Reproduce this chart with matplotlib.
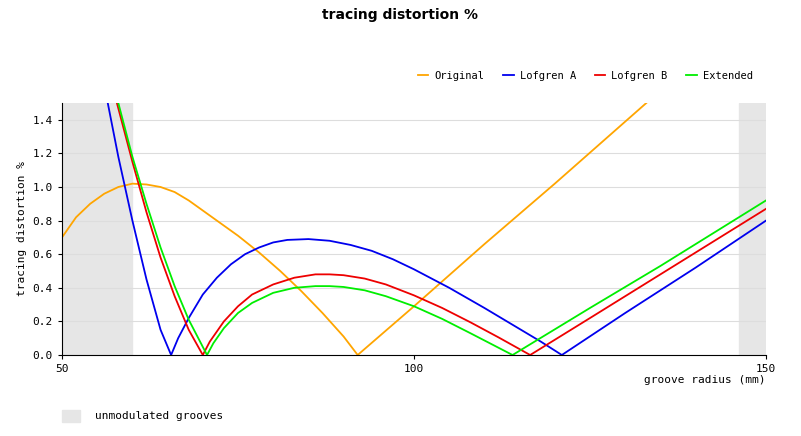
import numpy as np
import matplotlib.pyplot as plt

# values
orig_r = [50, 52, 54, 56, 58, 60, 62, 64, 66, 68, 70, 72, 75, 78, 81, 84, 87, 90, 92, 100, 110, 120, 133]
orig_v = [0.70, 0.82, 0.90, 0.96, 1.00, 1.02, 1.015, 1.00, 0.97, 0.92, 0.86, 0.80, 0.71, 0.61, 0.50, 0.38, 0.25, 0.11, 0.0,
          0.29, 0.66, 1.02, 1.50]

la_r = [56.5, 58, 60, 62, 64, 65.5, 66.5, 68, 70, 72, 74, 76, 78, 80, 82, 85, 88, 91, 94, 97, 100, 105, 110, 115,
        118, 121, 130, 140, 150]
la_v = [1.5, 1.18, 0.80, 0.45, 0.15, 0.0, 0.10, 0.22, 0.36, 0.46, 0.54, 0.60, 0.64, 0.67, 0.685, 0.69, 0.68, 0.655,
        0.62, 0.57, 0.51, 0.40, 0.28, 0.155, 0.08, 0.0, 0.25, 0.52, 0.80]

lb_r = [57.8, 60, 62, 64, 66, 68, 70, 71, 73, 75, 77, 80, 83, 86, 88, 90, 93, 96, 100, 104, 108, 112, 116.5,
        125, 135, 150]
lb_v = [1.5, 1.15, 0.85, 0.58, 0.35, 0.15, 0.0, 0.08, 0.20, 0.29, 0.36, 0.42, 0.46, 0.48, 0.48, 0.475, 0.455,
        0.42, 0.355, 0.28, 0.195, 0.105, 0.0, 0.22, 0.48, 0.87]

ex_r = [58.0, 60, 62, 64, 66, 68, 70.6, 71.5, 73, 75, 77, 80, 83, 86, 88, 90, 93, 96, 100, 104, 108, 111, 114,
        125, 135, 150]
ex_v = [1.5, 1.18, 0.90, 0.64, 0.41, 0.21, 0.0, 0.07, 0.16, 0.25, 0.31, 0.37, 0.40, 0.41, 0.41, 0.405, 0.385,
        0.35, 0.29, 0.215, 0.13, 0.065, 0.0, 0.28, 0.53, 0.92]

fig = plt.figure(figsize=(8.01, 4.36), dpi=100)
ax = fig.add_axes([62/801, 1 - 355/436, 704/801, 252/436])
mono = 'DejaVu Sans Mono'

ax.axvspan(50, 60, color='#e6e6e6', zorder=0)
ax.axvspan(146.2, 150, color='#e6e6e6', zorder=0)
ax.grid(axis='y', color='#dddddd', lw=0.8)
ax.set_axisbelow(True)

ax.plot(orig_r, orig_v, color='#ffa500', lw=1.3, label='Original')
ax.plot(la_r, la_v, color='#0000ee', lw=1.3, label='Lofgren A')
ax.plot(lb_r, lb_v, color='#ee0000', lw=1.3, label='Lofgren B')
ax.plot(ex_r, ex_v, color='#00ee00', lw=1.3, label='Extended')

ax.set_xlim(50, 150)
ax.set_ylim(0, 1.5)
ax.set_xticks([50, 100, 150])
ax.set_yticks(np.arange(0, 1.6, 0.2))
ax.yaxis.set_major_formatter(plt.FuncFormatter(lambda v, p: '%.1f' % v))
for s in ['top', 'right']:
    ax.spines[s].set_visible(False)
ax.tick_params(labelsize=8, length=3)
for t in ax.get_xticklabels() + ax.get_yticklabels():
    t.set_family(mono)
ax.set_ylabel('tracing distortion %', family=mono, fontsize=8)
ax.text(1.0, -0.1, 'groove radius (mm)', transform=ax.transAxes, ha='right',
        va='center', family=mono, fontsize=8)

ax.legend(loc='lower right', bbox_to_anchor=(0.995, 1.05), ncol=4, frameon=False,
          prop={'family': mono, 'size': 7.5}, handlelength=1.0, handletextpad=0.6,
          columnspacing=1.8)

fig.text(0.5, 0.965, 'tracing distortion %', ha='center', va='center',
         fontweight='bold', fontsize=10)
fig.patches.append(plt.Rectangle((62/801, 1 - 422/436), 18/801, 12/436,
                                 transform=fig.transFigure, color='#e6e6e6'))
fig.text(95/801, 1 - 416/436, 'unmodulated grooves', va='center', fontsize=8,
         family=mono)

fig.savefig('out.png')
